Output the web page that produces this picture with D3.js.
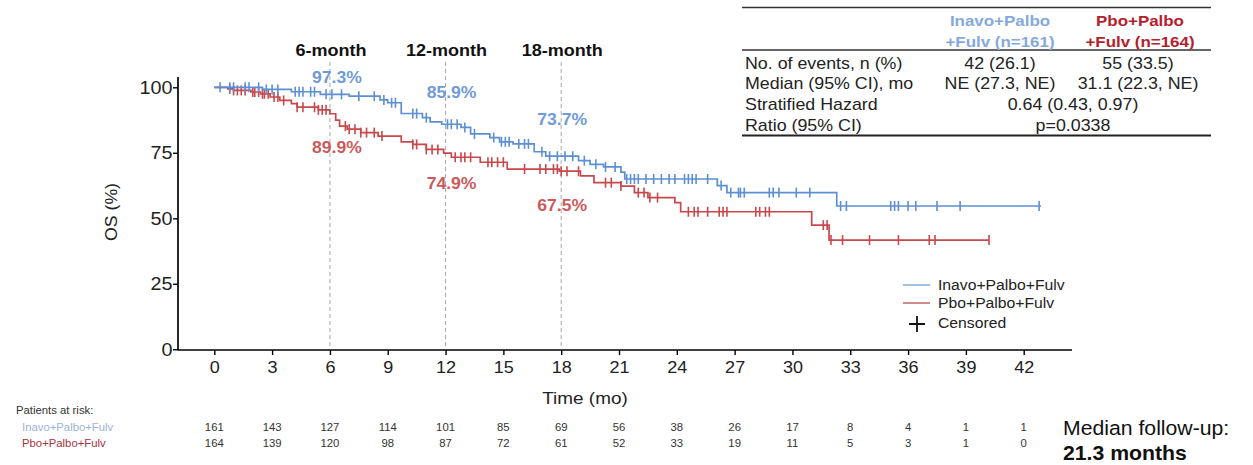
<!DOCTYPE html>
<html><head><meta charset="utf-8">
<script src="https://cdn.jsdelivr.net/npm/d3@7"></script>
<style>body{margin:0;background:#fff}svg{display:block;font-family:"Liberation Sans",Arial,sans-serif}</style>
</head><body><svg id="c" width="1253" height="465"></svg>
<script>
// ---- data ----
const xTicks = [0,3,6,9,12,15,18,21,24,27,30,33,36,39,42];
const yTicks = [0,25,50,75,100];
const landmarks = [6,12,18];
const landmarkLabels = ["6-month","12-month","18-month"];
const inavoLandmark = ["97.3%","85.9%","73.7%"];
const pboLandmark = ["89.9%","74.9%","67.5%"];

// step curves: time of step (mo), survival (%) after step
const inavoTimes = [0,2.5,4.0,5.5,7.0,8.6,9.0,9.7,10.8,11.2,11.8,12.8,13.3,14.3,14.8,15.5,16.6,17.2,18.9,19.5,20.2,21.1,21.3,26.1,26.6,32.3];
const inavoSurv  = [100,99.2,98.3,97.3,96.6,95.2,94.1,90.0,88.4,86.8,85.9,84.7,82.2,80.8,79.2,78.4,75.4,73.7,72.0,70.6,69.6,67.6,65.0,62.5,59.8,54.7];
const inavoEnd = 42.9;
const inavoCensor = [0.3,0.8,1.0,1.6,1.8,2.3,2.7,3.0,3.3,4.2,4.4,4.6,5.0,5.2,5.8,6.1,6.6,7.5,8.3,8.8,9.2,9.4,10.3,10.5,11.0,12.1,12.3,12.6,13.0,13.5,14.5,14.9,15.1,15.3,15.8,16.1,16.3,17.0,17.4,17.8,18.2,18.6,19.2,19.8,20.3,20.8,21.4,21.6,21.8,22.0,22.4,22.8,23.2,23.6,23.9,24.4,24.6,24.8,25.0,25.6,26.3,26.8,27.2,27.3,27.5,28.8,29.0,29.3,30.2,30.9,32.5,32.8,35.1,35.3,35.5,36.0,36.4,37.5,38.7,42.8];

const pboTimes = [0,0.7,1.0,1.9,2.4,2.9,3.4,4.0,4.3,5.4,6.0,6.3,6.5,6.9,7.6,8.5,9.7,10.3,11.0,11.9,12.3,13.8,15.2,17.9,19.0,19.7,21.1,21.8,22.5,23.9,24.2,31.0,31.9];
const pboSurv  = [100,99.4,98.8,98.2,97.5,96.3,95.0,93.8,92.4,91.4,89.9,87.5,85.2,84.0,82.7,81.4,79.2,78.2,76.3,74.9,73.3,71.4,68.8,68.0,66.2,63.6,62.3,59.8,57.9,56.0,52.5,47.4,41.7];
const pboEnd = 40.2;
const pboCensor = [0.8,1.0,1.2,1.4,1.6,2.0,2.1,2.3,2.5,2.6,2.8,3.1,3.3,3.6,4.3,4.6,5.2,5.4,5.6,5.8,6.8,7.0,7.3,7.6,7.9,8.3,8.7,10.3,10.5,11.0,11.3,11.6,12.5,12.8,13.0,13.3,14.2,14.4,14.7,15.0,16.1,16.9,17.2,17.6,17.8,18.0,18.3,18.9,20.3,20.6,21.1,22.0,22.3,22.6,23.0,24.6,24.9,25.1,25.6,26.2,26.4,26.6,28.1,28.3,28.6,28.8,31.6,31.8,32.0,32.6,34.0,35.5,37.1,37.4,40.2];

const riskInavo = [161,143,127,114,101,85,69,56,38,26,17,8,4,1,1];
const riskPbo   = [164,139,120,98,87,72,61,52,33,19,11,5,3,1,0];

const tableHeads = [["Inavo+Palbo","+Fulv (n=161)"],["Pbo+Palbo","+Fulv (n=164)"]];
const tableRows = ["No. of events, n (%)","Median (95% CI), mo","Stratified Hazard","Ratio (95% CI)"];
const tableInavo = ["42 (26.1)","NE (27.3, NE)"];
const tablePbo = ["55 (33.5)","31.1 (22.3, NE)"];
const tableHR = ["0.64 (0.43, 0.97)","p=0.0338"];

// ---- drawing ----
const BLUE = "#5d8fd4", RED = "#c8484b";
const SX = 1.1; // horizontal text stretch of the original figure
const svg = d3.select("#c");
const x = d3.scaleLinear().domain([0,42]).range([214.3,1023.7]);
const y = d3.scaleLinear().domain([0,100]).range([349.3,87.3]);

function txt(g, tx, ty, str, size, opts={}){
  const t = g.append("text")
    .attr("transform", `translate(${tx},${ty})${opts.rotate?` rotate(${opts.rotate})`:""} scale(${SX},1)`)
    .attr("font-size", size).attr("fill", opts.fill||"#222")
    .attr("text-anchor", opts.anchor||"start").text(str);
  if(opts.bold) t.attr("font-weight","bold");
  return t;
}

// axes
const xAxis = svg.append("g").attr("transform","translate(0,350)")
  .call(d3.axisBottom(x).tickValues(xTicks).tickSize(5).tickPadding(6.6).tickSizeOuter(0));
xAxis.select(".domain").attr("d","M178,0H1072").attr("stroke","#000").attr("stroke-width",1.7);
xAxis.selectAll("text").attr("font-size",16.4).attr("fill","#222").attr("font-family","Liberation Sans, Arial")
  .attr("transform",`scale(${SX},1)`);
xAxis.selectAll(".tick line").attr("stroke","#000").attr("stroke-width",1.4);

const yAxis = svg.append("g").attr("transform","translate(178,0)")
  .call(d3.axisLeft(y).tickValues(yTicks).tickSize(5).tickPadding(0).tickSizeOuter(0));
yAxis.select(".domain").attr("d","M0,77V350").attr("stroke","#000").attr("stroke-width",1.7);
yAxis.selectAll("text").attr("font-size",18).attr("fill","#222").attr("font-family","Liberation Sans, Arial")
  .attr("transform",`scale(${SX},1)`);
yAxis.selectAll(".tick line").attr("stroke","#000").attr("stroke-width",1.4);

txt(svg, 585, 404, "Time (mo)", 17.2, {anchor:"middle"});
txt(svg, 117, 212, "OS (%)", 16.1, {anchor:"middle", rotate:-90});

// landmark lines
landmarks.forEach((m,i)=>{
  svg.append("line").attr("x1",x(m)).attr("x2",x(m)).attr("y1",62).attr("y2",349)
    .attr("stroke","#a8a8a8").attr("stroke-width",1).attr("stroke-dasharray","4,3");
  txt(svg, x(m)+1, 56, landmarkLabels[i], 16.4, {anchor:"middle", bold:true, fill:"#111"});
});

function stepPath(times, surv, end){
  const pts = [];
  times.forEach((t,i)=>{
    if(i>0) pts.push([t, surv[i-1]]);
    pts.push([t, surv[i]]);
  });
  pts.push([end, surv[surv.length-1]]);
  return d3.line().x(d=>x(d[0])).y(d=>y(d[1]))(pts);
}
function survAt(times, surv, t){
  let s = surv[0];
  for(let i=0;i<times.length;i++){ if(times[i]<=t) s = surv[i]; }
  return s;
}
function drawArm(times, surv, end, cens, col){
  svg.append("path").attr("d",stepPath(times,surv,end)).attr("fill","none").attr("stroke",col).attr("stroke-width",1.7);
  svg.append("g").selectAll("line").data(cens).join("line")
    .attr("x1",d=>x(d)).attr("x2",d=>x(d))
    .attr("y1",d=>y(survAt(times,surv,d))-5).attr("y2",d=>y(survAt(times,surv,d))+5)
    .attr("stroke",col).attr("stroke-width",1.6);
}
drawArm(pboTimes,pboSurv,pboEnd,pboCensor,RED);
drawArm(inavoTimes,inavoSurv,inavoEnd,inavoCensor,BLUE);

// landmark values
const labDx = [7,6,1];
const inavoDy = [-11.4,-26,-31];
const pboDy = [39,36,38.5];
landmarks.forEach((m,i)=>{
  txt(svg, x(m)+labDx[i], y(parseFloat(inavoLandmark[i]))+inavoDy[i], inavoLandmark[i], 16, {anchor:"middle", bold:true, fill:"#6f9bd9"});
  txt(svg, x(m)+labDx[i], y(parseFloat(pboLandmark[i]))+pboDy[i], pboLandmark[i], 16, {anchor:"middle", bold:true, fill:"#cc5a5c"});
});

// legend
const lg = svg.append("g");
lg.append("line").attr("x1",903).attr("x2",930).attr("y1",285).attr("y2",285).attr("stroke","#8fb0dc").attr("stroke-width",1.6);
txt(lg, 938, 290, "Inavo+Palbo+Fulv", 14.3);
lg.append("line").attr("x1",903).attr("x2",930).attr("y1",303).attr("y2",303).attr("stroke","#c86c70").attr("stroke-width",1.6);
txt(lg, 938, 308, "Pbo+Palbo+Fulv", 14.3);
lg.append("path").attr("d","M909,324H925M917,316V332").attr("stroke","#111").attr("stroke-width",1.8);
txt(lg, 938, 328, "Censored", 14.3);

// table
const tb = svg.append("g");
[7.5,50].forEach(yy=>tb.append("line").attr("x1",742).attr("x2",1211).attr("y1",yy).attr("y2",yy).attr("stroke","#333").attr("stroke-width",1.4));
tb.append("line").attr("x1",742).attr("x2",1211).attr("y1",135.5).attr("y2",135.5).attr("stroke","#222").attr("stroke-width",1.8);
const headCols = [1000,1140], headColors = ["#86a9dd","#b3222c"];
tableHeads.forEach((h,i)=>h.forEach((s,j)=>txt(tb, headCols[i], 26+j*20.5, s, 15.4, {anchor:"middle", bold:true, fill:headColors[i]})));
const rowY = [68.5,89,110,131];
tableRows.forEach((r,i)=>txt(tb, 745, rowY[i], r, 16.2));
tableInavo.forEach((v,i)=>txt(tb, 1000, rowY[i], v, 16.2, {anchor:"middle"}));
tablePbo.forEach((v,i)=>txt(tb, 1138, rowY[i], v, 16.2, {anchor:"middle"}));
tableHR.forEach((v,i)=>txt(tb, 1073, rowY[i+2], v, 16.2, {anchor:"middle"}));

// at-risk table
const rk = svg.append("g");
txt(rk, 16, 414, "Patients at risk:", 10.3, {fill:"#333"});
txt(rk, 22, 431, "Inavo+Palbo+Fulv", 10.3, {fill:"#9db3d6"});
txt(rk, 22, 447, "Pbo+Palbo+Fulv", 10.3, {fill:"#a8323b"});
riskInavo.forEach((d,i)=>txt(rk, x(xTicks[i]), 431, d, 10.3, {anchor:"middle", fill:"#333"}));
riskPbo.forEach((d,i)=>txt(rk, x(xTicks[i]), 447, d, 10.3, {anchor:"middle", fill:"#333"}));

txt(svg, 1063, 435, "Median follow-up:", 19.3, {fill:"#111"});
txt(svg, 1063, 460, "21.3 months", 19.3, {bold:true, fill:"#111"});
</script></body></html>
